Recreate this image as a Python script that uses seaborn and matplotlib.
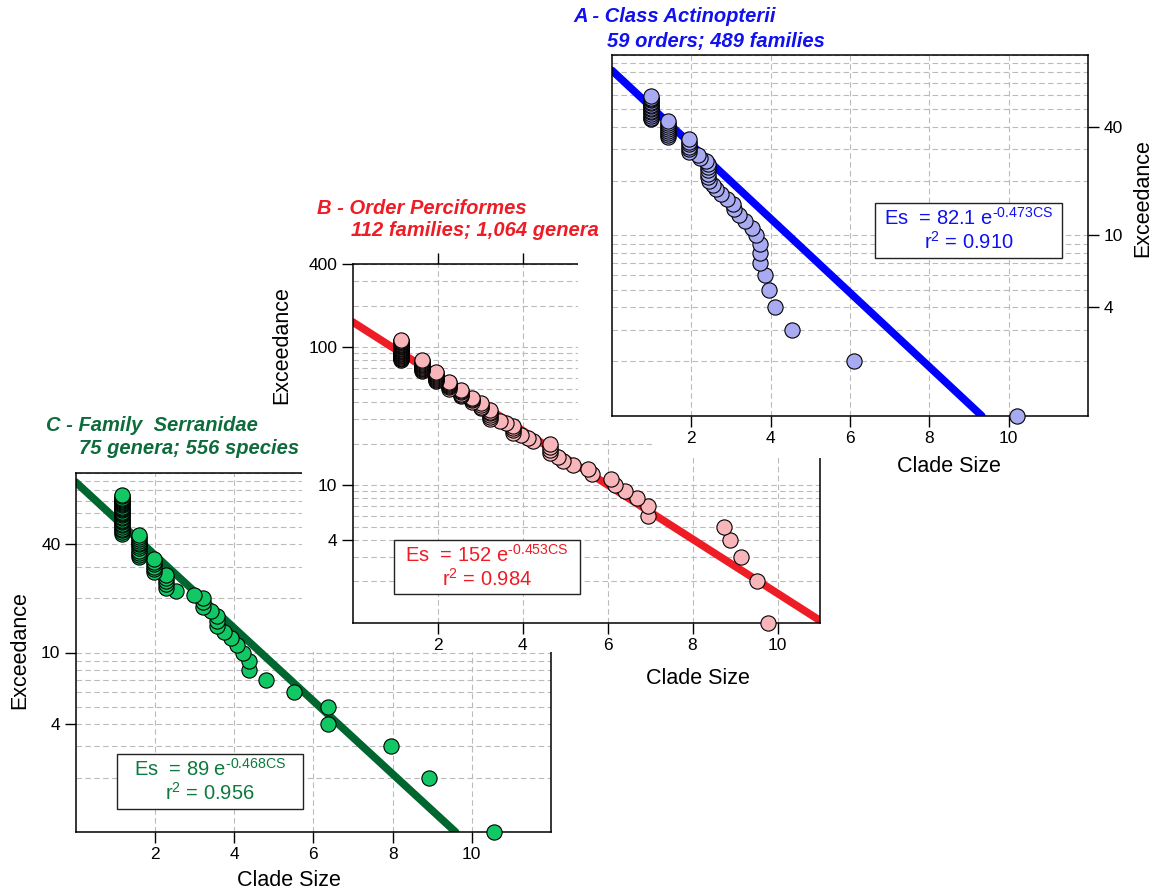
import numpy as np
import pandas as pd
import matplotlib
matplotlib.use("Agg")
import matplotlib.pyplot as plt
import seaborn as sns
from matplotlib.patches import Rectangle
from matplotlib.ticker import LogLocator, NullFormatter

# ---------------- data ----------------
# Panel A - Class Actinopterii (59 orders)
a_size = [0.99, 0.99, 0.99, 0.99, 0.99, 0.99, 0.99, 0.99, 0.99, 0.99, 0.99, 0.99, 0.99, 0.99, 0.99, 0.99,
          1.40, 1.40, 1.40, 1.40, 1.40, 1.40, 1.40, 1.40, 1.40,
          1.94, 1.94, 1.94, 1.94, 1.94, 1.94,
          2.17, 2.22, 2.38, 2.41, 2.41, 2.41, 2.41, 2.41,
          2.45, 2.55, 2.63, 2.75, 2.91, 3.05, 3.07, 3.20, 3.36, 3.52, 3.63, 3.74, 3.74, 3.74,
          3.86, 3.97, 4.11, 4.53, 6.10, 10.22]
a_exc = [59, 58, 57, 56, 55, 54, 53, 52, 51, 50, 49, 48, 47, 46, 45, 44,
         43, 42, 41, 40, 39, 38, 37, 36, 35,
         34, 33, 32, 31, 30, 29,
         28, 27, 26, 25, 24, 23, 22, 21,
         20, 19, 18, 17, 16, 15, 14, 13, 12, 11, 10, 9, 8, 7,
         6, 5, 4, 3, 2, 1]

# Panel B - Order Perciformes (112 families)
b_size = [1.14, 1.14, 1.14, 1.14, 1.14, 1.14, 1.14, 1.14, 1.14, 1.14, 1.14, 1.14, 1.14, 1.14, 1.14, 1.14,
          1.14, 1.14, 1.14, 1.14, 1.14, 1.14, 1.14, 1.14, 1.14, 1.14, 1.14, 1.14, 1.14, 1.14, 1.14, 1.14,
          1.63, 1.63, 1.63, 1.63, 1.63, 1.63, 1.63, 1.63, 1.63, 1.63, 1.63, 1.63, 1.63, 1.63,
          1.96, 1.96, 1.96, 1.96, 1.96, 1.96, 1.96, 1.96, 1.96, 1.96,
          2.27, 2.27, 2.27, 2.27, 2.27, 2.27, 2.27,
          2.55, 2.55, 2.55, 2.55, 2.55, 2.55,
          2.80, 2.80, 2.80, 2.80,
          3.02, 3.02, 3.02, 3.02,
          3.23, 3.23, 3.23, 3.23, 3.23, 3.23,
          3.47, 3.62,
          3.78, 3.78, 3.78, 3.78,
          3.97, 4.13, 4.25,
          4.64, 4.64, 4.64, 4.64,
          4.84, 4.95, 5.19, 5.54, 5.63, 6.09, 6.18, 6.40, 6.69, 6.96, 6.96,
          8.75, 8.88, 9.15, 9.51, 9.78]
b_exc = [112, 111, 110, 109, 108, 107, 106, 105, 104, 103, 102, 101, 100, 99, 98, 97,
         96, 95, 94, 93, 92, 91, 90, 89, 88, 87, 86, 85, 84, 83, 82, 81,
         80, 79, 78, 77, 76, 75, 74, 73, 72, 71, 70, 69, 68, 67,
         66, 65, 64, 63, 62, 61, 60, 59, 58, 57,
         56, 55, 54, 53, 52, 51, 50,
         49, 48, 47, 46, 45, 44,
         43, 42, 41, 40,
         39, 38, 37, 36,
         35, 34, 33, 32, 31, 30,
         29, 28,
         27, 26, 25, 24,
         23, 22, 21,
         20, 19, 18, 17,
         16, 15, 14, 13, 12, 11, 10, 9, 8, 7, 6,
         5, 4, 3, 2, 1]

# Panel C - Family Serranidae (75 genera)
c_size = [1.16, 1.16, 1.16, 1.16, 1.16, 1.16, 1.16, 1.16, 1.16, 1.16, 1.16, 1.16, 1.16, 1.16, 1.16,
          1.16, 1.16, 1.16, 1.16, 1.16, 1.16, 1.16, 1.16, 1.16, 1.16, 1.16, 1.16, 1.16, 1.16, 1.16,
          1.61, 1.61, 1.61, 1.61, 1.61, 1.61, 1.61, 1.61, 1.61, 1.61, 1.61, 1.61,
          1.97, 1.97, 1.97, 1.97, 1.97, 1.97,
          2.29, 2.29, 2.29, 2.29, 2.29,
          2.53, 2.99,
          3.22, 3.22, 3.22,
          3.41,
          3.58, 3.58, 3.58,
          3.74, 3.91, 4.08, 4.23, 4.37, 4.37, 4.81, 5.50, 6.37, 6.37, 7.96, 8.92, 10.55]
c_exc = [75, 74, 73, 72, 71, 70, 69, 68, 67, 66, 65, 64, 63, 62, 61,
         60, 59, 58, 57, 56, 55, 54, 53, 52, 51, 50, 49, 48, 47, 46,
         45, 44, 43, 42, 41, 40, 39, 38, 37, 36, 35, 34,
         33, 32, 31, 30, 29, 28,
         27, 26, 25, 24, 23,
         22, 21,
         20, 19, 18,
         17,
         16, 15, 14,
         13, 12, 11, 10, 9, 8, 7, 6, 5, 4, 3, 2, 1]

# fitted models  Es = a * exp(-b * CS)
a_fit = (82.1, 0.473)
b_fit = (152.0, 0.453)
c_fit = (89.0, 0.468)
a_fit_xend = 9.32
b_fit_xend = 11.0
c_fit_xend = 9.59

x_ticks = [2, 4, 6, 8, 10]
a_yticks = [4, 10, 40]
b_yticks = [4, 10, 100, 400]
c_yticks = [4, 10, 40]

# ---------------- style ----------------
sns.set_theme(style="white")
plt.rcParams["font.family"] = ["Liberation Sans", "DejaVu Sans"]
plt.rcParams["mathtext.fontset"] = "custom"
plt.rcParams["mathtext.rm"] = "Liberation Sans"
plt.rcParams["mathtext.sf"] = "Liberation Sans"
plt.rcParams["mathtext.it"] = "Liberation Sans:italic"
plt.rcParams["mathtext.bf"] = "Liberation Sans:bold"
plt.rcParams["mathtext.default"] = "regular"

W, H = 1156, 894
fig = plt.figure(figsize=(W / 100, H / 100), dpi=100)
fig.patch.set_facecolor("white")


def frect(l, t, r, b):
    return [l / W, 1 - b / H, (r - l) / W, (b - t) / H]


GRID = dict(color="#BBBBBB", linestyle=(0, (5, 3)), linewidth=0.8)


def panel(rect, z, xs, ys, xmax, ymax, yticks, mface, lcolor, fit, xend,
          yright=False, toptick=False):
    ax = fig.add_axes(rect, zorder=z)
    ax.set_facecolor("white")
    ax.set_yscale("log")
    ax.set_xlim(0, xmax)
    ax.set_ylim(1, ymax)
    ax.yaxis.set_minor_locator(LogLocator(base=10, subs=np.arange(1, 10), numticks=20))
    ax.yaxis.set_minor_formatter(NullFormatter())
    ax.set_yticks(yticks)
    ax.set_yticklabels([str(t) for t in yticks])
    ax.set_xticks(x_ticks)
    ax.set_xticklabels([str(t) for t in x_ticks])
    ax.grid(True, which="both", axis="y", **GRID)
    ax.grid(True, which="major", axis="x", **GRID)
    ax.set_axisbelow(True)
    for s in ax.spines.values():
        s.set_color("black")
        s.set_linewidth(1.1)
    ax.tick_params(which="major", direction="out", length=8, width=1.0,
                   color="black", labelsize=12.5, pad=3, labelcolor="black")
    ax.tick_params(which="minor", length=0)
    ax.tick_params(axis="x", bottom=True, top=toptick, labeltop=False)
    if yright:
        ax.yaxis.tick_right()
        ax.tick_params(axis="y", right=True, left=False)
    else:
        ax.tick_params(axis="y", left=True, right=False)

    fx = [0.0, xend]
    fy = [fit[0] * np.exp(-fit[1] * v) for v in fx]
    sns.lineplot(x=fx, y=fy, ax=ax, color=lcolor, linewidth=5.5,
                 solid_capstyle="round", zorder=2, estimator=None, sort=False)
    # draw from the smallest exceedance upward so the top of each stack is in front
    df = pd.DataFrame({"size": xs, "exc": ys}).iloc[::-1]
    sns.scatterplot(data=df, x="size", y="exc", ax=ax, color=mface,
                    edgecolor="black", linewidth=0.8, s=120, zorder=3,
                    legend=False, clip_on=False)
    ax.set_xlabel("")
    ax.set_ylabel("")
    return ax


def ftext(x, y, s, z, **kw):
    fig.text(x / W, 1 - y / H, s, zorder=z, **kw)


def eqbox(l, t, r, b, z, eq, r2, color):
    fig.add_artist(Rectangle((l / W, 1 - b / H), (r - l) / W, (b - t) / H,
                             transform=fig.transFigure, fc="white", ec="#222222",
                             lw=1.0, zorder=z))
    ftext((l + r) / 2, t + 15, eq, z + 0.01, color=color, fontsize=14.5,
          ha="center", va="center")
    ftext((l + r) / 2, t + 39, r2, z + 0.01, color=color, fontsize=14.5,
          ha="center", va="center")


TITLE = dict(fontsize=14.5, fontweight="bold", fontstyle="italic", ha="left", va="center")
LAB = dict(fontsize=15.5, color="black", ha="center", va="center")

# colours
A_LINE, A_MARK, A_TXT = "#0000FF", "#A9ABF2", "#1010F0"
B_LINE, B_MARK, B_TXT = "#EE1C25", "#F9B6BA", "#EE1C25"
C_LINE, C_MARK, C_TXT, C_TTL = "#00662F", "#12C865", "#0B7A3E", "#0E6B3B"

# ---- panel C (bottom layer) ----
panel(frect(75.7, 473, 551, 832), 1, c_size, c_exc, 12, 100, c_yticks,
      C_MARK, C_LINE, c_fit, c_fit_xend)
eqbox(117, 754, 303, 809, 1.2, r"Es  = 89 e$^{\text{-0.468CS}}$", r"r$^{2}$ = 0.956", C_TXT)
ftext(46, 425, "C - Family  Serranidae", 1.5, color=C_TTL, **TITLE)
ftext(79, 448, "75 genera; 556 species", 1.5, color=C_TTL, **TITLE)
ftext(289, 881, "Clade Size", 1.5, **LAB)
ftext(20, 650, "Exceedance", 1.5, rotation=90, **LAB)

# ---- panel B ----
fig.add_artist(Rectangle((302 / W, 1 - 652 / H), (850 - 302) / W, (652 - 185) / H,
                         transform=fig.transFigure, fc="white", ec="none", zorder=2))
panel(frect(352.7, 264, 820, 623), 3, b_size, b_exc, 11, 400, b_yticks,
      B_MARK, B_LINE, b_fit, b_fit_xend, toptick=True)
eqbox(394, 540, 580, 594, 3.2, r"Es  = 152 e$^{\text{-0.453CS}}$", r"r$^{2}$ = 0.984", B_TXT)
ftext(698, 678, "Clade Size", 3.5, **LAB)
ftext(282, 345, "Exceedance", 3.5, rotation=90, **LAB)

# ---- panel A (top layer) ----
fig.add_artist(Rectangle((578 / W, 1 - 440 / H), (W - 578) / W, 440 / H,
                         transform=fig.transFigure, fc="white", ec="none", zorder=4))
fig.add_artist(Rectangle((652 / W, 1 - 458 / H), (W - 652) / W, 30 / H,
                         transform=fig.transFigure, fc="white", ec="none", zorder=4))
panel(frect(612, 55, 1088, 415.7), 5, a_size, a_exc, 12, 100, a_yticks,
      A_MARK, A_LINE, a_fit, a_fit_xend, yright=True)
eqbox(875, 203, 1062, 258, 5.2, r"Es  = 82.1 e$^{\text{-0.473CS}}$", r"r$^{2}$ = 0.910", A_TXT)
ftext(949, 467, "Clade Size", 5.5, **LAB)
ftext(1143, 198, "Exceedance", 5.5, rotation=90, **LAB)
ftext(573, 17, "A - Class Actinopterii", 5.5, color=A_TXT, **TITLE)
ftext(607, 41, "59 orders; 489 families", 5.5, color=A_TXT, **TITLE)

# B titles on top of everything
ftext(317, 208, "B - Order Perciformes", 6, color=B_TXT, **TITLE)
ftext(351, 231, "112 families; 1,064 genera", 6, color=B_TXT, **TITLE)

fig.savefig("out.png", dpi=100, facecolor="white")
